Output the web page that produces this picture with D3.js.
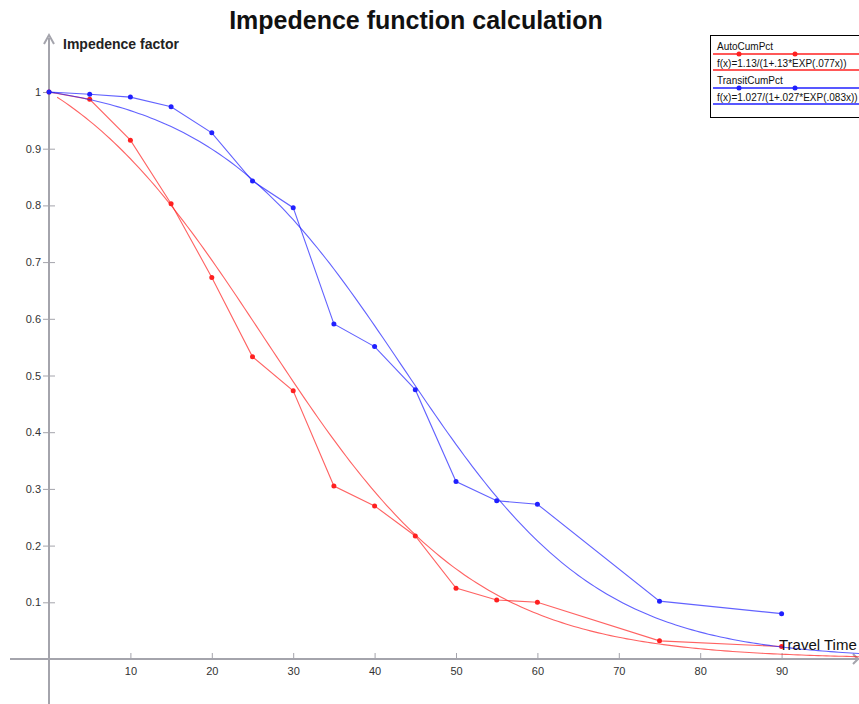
<!DOCTYPE html>
<html>
<head>
<meta charset="utf-8">
<script src="https://cdn.jsdelivr.net/npm/d3@7"></script>
<style>
  html, body { margin: 0; padding: 0; background: #fff; overflow: hidden; }
  svg { display: block; font-family: "Liberation Sans", Arial, sans-serif; }
</style>
</head>
<body>
<svg id="chart"></svg>
<script>
const minutes = [0, 5, 10, 15, 20, 25, 30, 35, 40, 45, 50, 55, 60, 75, 90];
const autoCumPct = [1, 0.987, 0.915, 0.803, 0.673, 0.533, 0.473, 0.305, 0.270, 0.217, 0.125, 0.104, 0.100, 0.032, 0.022];
const transitCumPct = [1, 0.996, 0.991, 0.974, 0.928, 0.843, 0.796, 0.591, 0.551, 0.475, 0.313, 0.279, 0.273, 0.102, 0.080];

// fitted curves f(x) = a / (1 + b*EXP(k*x)), as printed in the legend
const autoFit = {a: 1.13, b: 0.13, k: 0.077, from: 1, label: "f(x)=1.13/(1+.13*EXP(.077x))"};
const transitFit = {a: 1.027, b: 0.027, k: 0.083, from: 0, label: "f(x)=1.027/(1+.027*EXP(.083x))"};

const xTicks = [10, 20, 30, 40, 50, 60, 70, 80, 90];
const yTicks = [0.1, 0.2, 0.3, 0.4, 0.5, 0.6, 0.7, 0.8, 0.9, 1];

const width = 859, height = 704;
const red = "#ff2020", blue = "#2020ff";

const x = d3.scaleLinear([0, 100], [49, 863]);
const y = d3.scaleLinear([0, 1], [659, 92]);

const svg = d3.select("#chart")
    .attr("width", width)
    .attr("height", height)
    .attr("viewBox", [0, 0, width, height]);

svg.append("text")
    .attr("x", 416)
    .attr("y", 29)
    .attr("text-anchor", "middle")
    .attr("font-size", 25)
    .attr("font-weight", "bold")
    .attr("fill", "#111")
    .text("Impedence function calculation");

// axes
const axisColor = "#a4a4ac";

const xAxis = g => g
    .attr("transform", `translate(0,${y(0)})`)
    .call(d3.axisTop(x).tickValues(xTicks).tickSize(6).tickFormat(d3.format("d")))
    .call(g => g.select(".domain").remove())
    .call(g => g.selectAll(".tick line").attr("stroke", axisColor))
    .call(g => g.selectAll(".tick text").attr("y", 16).attr("dy", 0)
        .attr("font-size", 11).attr("fill", "#333"));

const yAxis = g => g
    .attr("transform", `translate(${x(0)},0)`)
    .call(d3.axisLeft(y).tickValues(yTicks).tickSize(6).tickFormat(d => d === 1 ? "1" : d3.format(".1f")(d)))
    .call(g => g.select(".domain").remove())
    .call(g => g.selectAll(".tick line").attr("x1", -6).attr("x2", 6).attr("stroke", axisColor))
    .call(g => g.selectAll(".tick text").attr("x", -8)
        .attr("font-size", 11).attr("fill", "#333"));

svg.append("g").attr("font-family", null).call(xAxis);
svg.append("g").attr("font-family", null).call(yAxis);

// axis lines with arrows
svg.append("line")
    .attr("x1", 10).attr("x2", width)
    .attr("y1", y(0)).attr("y2", y(0))
    .attr("stroke", axisColor).attr("stroke-width", 2);
svg.append("line")
    .attr("x1", x(0)).attr("x2", x(0))
    .attr("y1", height).attr("y2", 38)
    .attr("stroke", axisColor).attr("stroke-width", 2);
svg.append("path")
    .attr("d", `M${x(0) - 5},${44}L${x(0)},${35}L${x(0) + 5},${44}`)
    .attr("fill", "none").attr("stroke", axisColor).attr("stroke-width", 2);
svg.append("path")
    .attr("d", `M${width - 6},${y(0) - 5}L${width - 1},${y(0)}L${width - 6},${y(0) + 5}`)
    .attr("fill", "none").attr("stroke", axisColor).attr("stroke-width", 2);

svg.append("text")
    .attr("x", 63).attr("y", 49)
    .attr("font-size", 14).attr("font-weight", "bold").attr("fill", "#222")
    .text("Impedence factor");

// series
const line = d3.line().x(d => x(d[0])).y(d => y(d[1]));
const fitPoints = f => d3.range(f.from, 100.5, 0.5).map(t => [t, f.a / (1 + f.b * Math.exp(f.k * t))]);

const plot = svg.append("g");

function drawSeries(values, fit, color) {
  const pts = minutes.map((m, i) => [m, values[i]]);
  plot.append("path")
      .attr("d", line(fitPoints(fit)))
      .attr("fill", "none").attr("stroke", color).attr("stroke-opacity", 0.7).attr("stroke-width", 1.1);
  plot.append("path")
      .attr("d", line(pts))
      .attr("fill", "none").attr("stroke", color).attr("stroke-opacity", 0.7).attr("stroke-width", 1.1);
  plot.append("g")
    .selectAll("circle")
    .data(pts)
    .join("circle")
      .attr("cx", d => x(d[0]))
      .attr("cy", d => y(d[1]))
      .attr("r", 2.5)
      .attr("fill", color);
}

drawSeries(autoCumPct, autoFit, red);
drawSeries(transitCumPct, transitFit, blue);

svg.append("text")
    .attr("x", 779).attr("y", 650)
    .attr("font-size", 15).attr("fill", "#111")
    .text("Travel Time");

// legend
const legend = svg.append("g");
legend.append("rect")
    .attr("x", 710.5).attr("y", 35.5)
    .attr("width", 160).attr("height", 82)
    .attr("fill", "#fff").attr("stroke", "#000");

const legendRows = [
  {name: "AutoCumPct", fit: autoFit, color: red, y: 54},
  {name: "TransitCumPct", fit: transitFit, color: blue, y: 88}
];

legendRows.forEach(r => {
  legend.append("text")
      .attr("x", 717).attr("y", r.y - 4)
      .attr("font-size", 10).attr("fill", "#111").text(r.name);
  legend.append("line")
      .attr("x1", 713).attr("x2", width).attr("y1", r.y).attr("y2", r.y)
      .attr("stroke", r.color).attr("stroke-width", 1.3);
  legend.selectAll(null)
    .data([739, 795])
    .join("circle")
      .attr("cx", d => d).attr("cy", r.y).attr("r", 2.5).attr("fill", r.color);
  legend.append("text")
      .attr("x", 717).attr("y", r.y + 13)
      .attr("font-size", 10).attr("fill", "#111").text(r.fit.label);
  legend.append("line")
      .attr("x1", 713).attr("x2", width).attr("y1", r.y + 16).attr("y2", r.y + 16)
      .attr("stroke", r.color).attr("stroke-width", 1.3);
});
</script>
</body>
</html>
